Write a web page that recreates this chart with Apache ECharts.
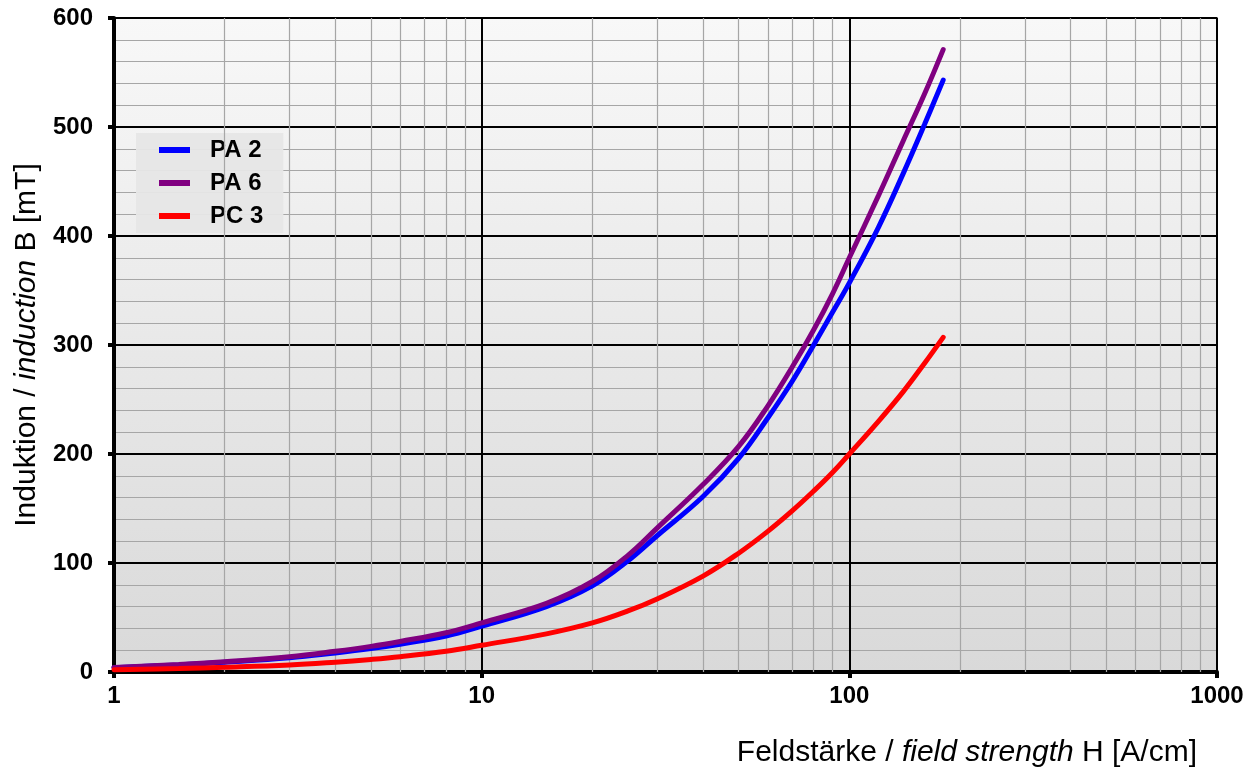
<html>

<head>
  <script src="https://cdn.jsdelivr.net/npm/echarts@6/dist/echarts.min.js"></script>
</head>

<body style="margin:0;background:#fff">
  <div id="main" style="width: 1260px;height:769px;"></div>
  <script>
    // field strength H [A/cm]
    var fieldH = [1, 1.5, 2, 3, 4, 5, 6, 8, 10, 15, 20, 25, 30, 40, 50, 60, 70, 80, 90, 100, 120, 140, 160, 180];
    // induction B [mT]
    var pa2 = [4, 6.5, 8.9, 13, 17.5, 21.5, 25.5, 33, 42, 60, 79, 102, 125, 161, 196, 233, 267, 300, 330, 357, 408, 457, 502, 543];
    var pa6 = [4.2, 6.8, 9.4, 14, 19, 23.5, 28, 36, 45, 63, 83, 107, 132, 172, 207, 244, 280, 314, 347, 380, 437, 487, 530, 571];
    var pc3 = [2, 3.2, 4.3, 6.4, 9, 11.5, 14, 19, 24.5, 35, 45, 56, 67, 88, 109, 129, 148, 166, 183, 200, 230, 257, 283, 307];
    var minorX = [2, 3, 4, 5, 6, 7, 8, 9, 20, 30, 40, 50, 60, 70, 80, 90, 200, 300, 400, 500, 600, 700, 800, 900];

    var myChart = echarts.init(document.getElementById('main'));
    var font = '"Liberation Sans", Arial, sans-serif';

    function pairs(ys) {
      return fieldH.map((h, i) => [h, ys[i]]);
    }

    function curve(name, color, ys) {
      return {
        name: name,
        type: 'line',
        data: pairs(ys),
        smooth: 0.4,
        showSymbol: false,
        z: 5,
        lineStyle: { color: color, width: 5, cap: 'round' },
        itemStyle: { color: color }
      };
    }

    var seriesList = [
      curve('PA 2', '#0000ff', pa2),
      curve('PA 6', '#800080', pa6),
      curve('PC 3', '#ff0000', pc3)
    ];
    // minor vertical grid lines of the log axis
    seriesList.unshift({
      type: 'line',
      data: [],
      silent: true,
      z: 1,
      markLine: {
        silent: true,
        symbol: 'none',
        label: { show: false },
        lineStyle: { color: '#a6a6a6', width: 1.2, type: 'solid' },
        data: minorX.map(v => ({ xAxis: v }))
      }
    });

    option = {
      textStyle: { fontFamily: font },
      animation: false,
      title: {
        text: 'Feldstärke / {i|field strength} H [A/cm]',
        right: 58,
        top: 733,
        textStyle: {
          fontFamily: font,
          fontSize: 30,
          fontWeight: 'normal',
          color: '#000',
          rich: {
            i: { fontFamily: font, fontSize: 30, fontStyle: 'italic', color: '#000' }
          }
        }
      },
      legend: {
        left: 136,
        top: 133,
        orient: 'vertical',
        backgroundColor: 'rgba(230,230,230,0.95)',
        padding: [5, 20, 5, 23],
        itemWidth: 31,
        itemHeight: 6,
        itemGap: 9,
        icon: 'rect',
        data: ['PA 2', 'PA 6', 'PC 3'],
        textStyle: { fontFamily: font, fontSize: 24, fontWeight: 'bold', color: '#000', padding: [0, 0, 0, 15] }
      },
      grid: {
        left: 114,
        right: 43,
        top: 18,
        bottom: 97,
        show: true,
        borderColor: '#888',
        borderWidth: 2,
        backgroundColor: {
          type: 'linear', x: 0, y: 0, x2: 0, y2: 1,
          colorStops: [{ offset: 0, color: '#f8f8f8' }, { offset: 1, color: '#d9d9d9' }]
        }
      },
      xAxis: {
        type: 'log',
        logBase: 10,
        min: 1,
        max: 1000,
        axisLine: { show: true, lineStyle: { color: '#000', width: 4 } },
        axisTick: { show: true, length: 6, lineStyle: { color: '#000', width: 4 } },
        axisLabel: {
          margin: 12, fontFamily: font, fontSize: 24, fontWeight: 'bold', color: '#000',
          formatter: function (v) { return String(Math.round(v)); }
        },
        splitLine: { show: true, lineStyle: { color: '#000', width: 2 } }
      },
      yAxis: {
        type: 'value',
        min: 0,
        max: 600,
        interval: 100,
        axisLine: { show: true, lineStyle: { color: '#000', width: 4 } },
        axisTick: { show: true, length: 6, lineStyle: { color: '#000', width: 4 } },
        axisLabel: { margin: 21, fontFamily: font, fontSize: 24, fontWeight: 'bold', color: '#000' },
        splitLine: { show: true, lineStyle: { color: '#000', width: 2 } },
        minorTick: { show: false, splitNumber: 5 },
        minorSplitLine: { show: true, lineStyle: { color: '#a6a6a6', width: 1.2 } },
        name: 'Induktion / {i|induction} B [mT]',
        nameLocation: 'middle',
        nameGap: 70,
        nameTextStyle: {
          fontFamily: font,
          fontSize: 30,
          color: '#000',
          rich: {
            i: { fontFamily: font, fontSize: 30, fontStyle: 'italic', color: '#000' }
          }
        }
      },
      series: seriesList
    };

    myChart.setOption(option);

  </script>
</body>

</html>
